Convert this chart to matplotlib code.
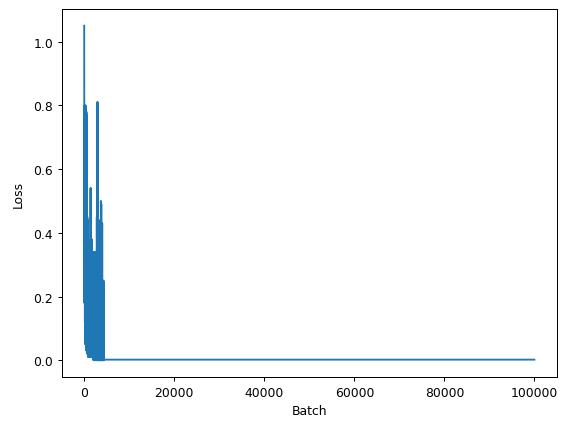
import matplotlib
matplotlib.use('Agg')
import matplotlib.pyplot as plt

# loss per batch (early part is a dense oscillation)
batch = [0, 50, 100, 150, 200, 250, 300, 350, 400, 450, 500, 550, 600, 650, 700, 750,
         800, 850, 900, 950, 1000, 1050, 1100, 1150, 1200, 1250, 1300, 1350, 1400, 1450,
         1500, 1550, 1600, 1650, 1700, 1750, 1800, 1850, 1900, 1950, 2000, 2050, 2100,
         2150, 2200, 2250, 2300, 2350, 2400, 2450, 2500, 2550, 2600, 2650, 2700, 2750,
         2800, 2850, 2900, 2950, 3000, 3050, 3100, 3150, 3200, 3250, 3300, 3350, 3400,
         3450, 3500, 3550, 3600, 3650, 3700, 3750, 3800, 3850, 3900, 3950, 4000, 4050,
         4100, 4150, 4200, 4250, 4300, 4350, 4400, 100000]
loss = [1.05, 0.18, 0.80, 0.12, 0.79, 0.05, 0.80, 0.10, 0.78, 0.03, 0.78, 0.08, 0.77, 0.02,
        0.45, 0.05, 0.44, 0.01, 0.38, 0.04, 0.37, 0.01, 0.36, 0.02, 0.37, 0.01, 0.36, 0.03,
        0.54, 0.01, 0.54, 0.02, 0.37, 0.01, 0.38, 0.01, 0.33, 0.01, 0.31, 0.01, 0.34, 0.00,
        0.34, 0.01, 0.34, 0.00, 0.34, 0.01, 0.32, 0.00, 0.34, 0.01, 0.33, 0.00, 0.34, 0.01,
        0.45, 0.00, 0.81, 0.00, 0.81, 0.01, 0.44, 0.00, 0.44, 0.00, 0.34, 0.00, 0.33, 0.00,
        0.34, 0.00, 0.44, 0.00, 0.50, 0.00, 0.49, 0.00, 0.42, 0.00, 0.43, 0.00, 0.25, 0.00,
        0.24, 0.00, 0.25, 0.00, 0.002, 0.002]

plt.figure(figsize=(6.4, 4.84), dpi=89.25)
plt.plot(batch, loss)
plt.xlabel('Batch')
plt.ylabel('Loss', labelpad=7)
plt.subplots_adjust(left=0.108, right=0.975, top=0.977, bottom=0.125)
plt.savefig('out.png')
